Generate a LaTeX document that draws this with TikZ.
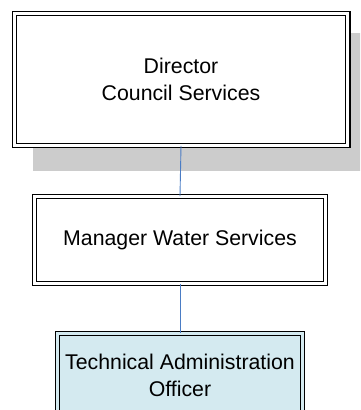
\documentclass[tikz,border=0pt]{standalone}
\usepackage{fontspec}
\setmainfont{Liberation Sans}
\definecolor{linkblue}{HTML}{4A7CC4}
\definecolor{posfill}{HTML}{D4EAF0}
\definecolor{shadowgray}{HTML}{CCCCCC}
\tikzset{
  posbox/.style={draw, double=white, double distance=3pt, line width=1.2pt,
    inner sep=0pt, align=center, font=\fontsize{21.3}{26.5}\selectfont},
  link/.style={draw=linkblue, line width=0.9pt},
}
\begin{document}
\begin{tikzpicture}[x=1pt, y=-1pt]
  \useasboundingbox (0,0) rectangle (360,410);
  \clip (0,0) rectangle (360,410);
  % Schatten
  \fill[shadowgray] (33,33) rectangle (373,171);

  % Stellen
  \node[posbox, fill=white, minimum width=333.6pt, minimum height=131.6pt]
    (director) at (181,79.5) {Director\\Council Services};
  \node[posbox, fill=white, minimum width=290.6pt, minimum height=86.6pt]
    (manager) at (180,240) {Manager Water Services};
  \node[posbox, fill=posfill, double=posfill, minimum width=244.6pt, minimum height=83.6pt]
    (officer) at (180,375.5) {Technical Administration\\Officer};

  % Verbindungen
  \draw[link] (director.south) -- (manager.north);
  \draw[link] (manager.south) -- (officer.north);
\end{tikzpicture}
\end{document}
